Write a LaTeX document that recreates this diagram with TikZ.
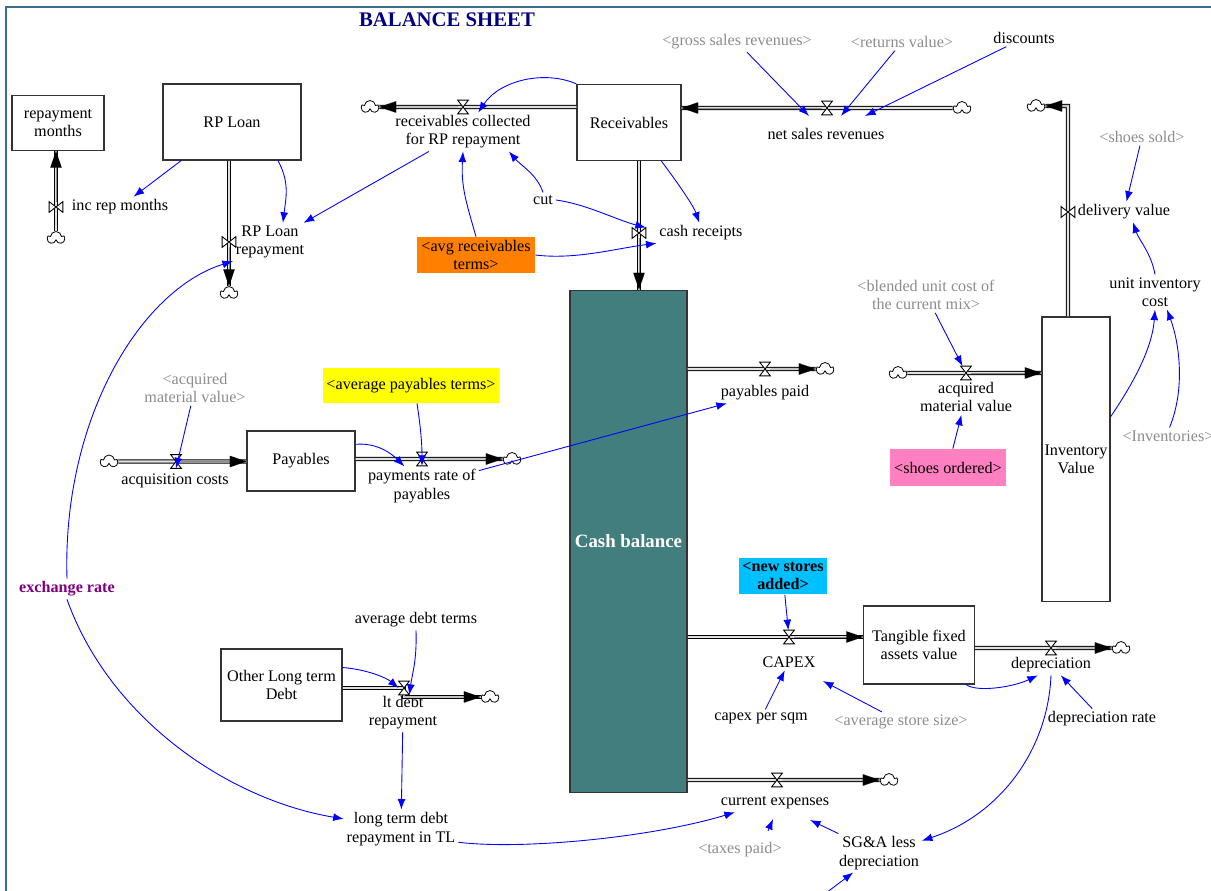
\documentclass[tikz,border=0pt]{standalone}
\usepackage{fontspec}
\setmainfont{Liberation Serif}
\usetikzlibrary{shapes.symbols, arrows.meta, calc}

\definecolor{cashteal}{RGB}{66,126,126}
\definecolor{frameblue}{RGB}{60,110,140}
\definecolor{titlenavy}{RGB}{0,0,128}
\definecolor{expurple}{RGB}{128,0,128}
\definecolor{avgorange}{RGB}{255,128,0}
\definecolor{payyellow}{RGB}{255,255,0}
\definecolor{shoepink}{RGB}{255,128,192}
\definecolor{storecyan}{RGB}{0,192,255}
\definecolor{ghostgray}{RGB}{140,140,140}

\newcommand\simfont{\fontsize{9.2}{10.4}\selectfont}

\tikzset{
  stock/.style={draw=black!80, line width=0.6pt, fill=white, align=center, font=\simfont, inner sep=1pt},
  auxvar/.style={align=center, font=\simfont, inner sep=1.5pt},
  shadowvar/.style={auxvar, text=ghostgray},
  influence/.style={blue, line width=0.5pt, -{Latex[length=6pt,width=4.5pt]}},
  pipe/.style={draw=black, double=black!12, double distance=1.4pt, line width=0.5pt},
  pipetip/.style={draw, line width=0.01pt, -{Triangle[length=9.5pt,width=6.5pt]}},
  valveh/.style={inner sep=0pt, minimum width=0.2cm, minimum height=0.26cm},
  valvev/.style={inner sep=0pt, minimum width=0.26cm, minimum height=0.2cm},
  valveline/.style={draw=black, fill=white, line width=0.5pt},
  sink/.style={cloud, cloud puffs=5, cloud puff arc=170, draw, fill=white, line width=0.45pt, inner sep=0pt, minimum width=0.34cm, minimum height=0.26cm}
}

\begin{document}
\begin{tikzpicture}[x=0.02cm, y=-0.02cm]
\useasboundingbox (0,0) rectangle (1211,891);
\draw[frameblue, line width=1.2pt] (6,900) -- (6,7) -- (1220,7);
\node[font=\fontsize{11.8}{14}\selectfont\bfseries, text=titlenavy] (title) at (447,20) {BALANCE SHEET};

% stocks
\node[stock, minimum width=1.84cm, minimum height=1.1cm] (repmonths) at (58,123) {repayment\\months};
\node[stock, minimum width=2.76cm, minimum height=1.52cm] (rploan) at (232,122) {RP Loan};
\node[stock, minimum width=2.08cm, minimum height=1.52cm] (recv) at (629,122.5) {Receivables};
\node[stock, fill=cashteal, text=white, font=\fontsize{10.7}{12}\selectfont\bfseries, minimum width=2.34cm, minimum height=10.06cm] (cash) at (628.5,541.5) {Cash balance};
\node[stock, minimum width=2.16cm, minimum height=1.2cm] (payables) at (301,461) {Payables};
\node[stock, minimum width=1.36cm, minimum height=5.7cm] (inv) at (1076,459.5) {Inventory\\Value};
\node[stock, minimum width=2.22cm, minimum height=1.56cm] (tfa) at (919,645) {Tangible fixed\\assets value};
\node[stock, minimum width=2.42cm, minimum height=1.44cm] (oltd) at (281.5,685) {Other Long term\\Debt};

% valves
\node[valvev] (vinc) at (56,207) {};
\node[valvev] (vrplr) at (229,242) {};
\node[valveh] (vrcfrp) at (463,107) {};
\node[valveh] (vnsr) at (827,108) {};
\node[valvev] (vcr) at (639,233) {};
\node[valveh] (vpp) at (765,369) {};
\node[valveh] (vacq) at (176,461.5) {};
\node[valveh] (vprp) at (422,459) {};
\node[valveh] (vamv) at (966,373) {};
\node[valvev] (vdv) at (1068,212) {};
\node[valveh] (vcapex) at (789,637) {};
\node[valveh] (vdep) at (1051,648) {};
\node[valveh] (vltdr) at (404,688) {};
\node[valveh] (vce) at (777,780) {};

% clouds
\node[sink] (cinc) at (56,238) {};
\node[sink] (crplr) at (229,293) {};
\node[sink] (crcfrp) at (370,107) {};
\node[sink] (cnsr) at (962,108) {};
\node[sink] (cpp) at (825,369) {};
\node[sink] (cacq) at (109,461.5) {};
\node[sink] (cprp) at (512,459) {};
\node[sink] (camv) at (898,373) {};
\node[sink] (cdv) at (1036,106) {};
\node[sink] (cdep) at (1121,648) {};
\node[sink] (cltdr) at (490,697) {};
\node[sink] (cce) at (889,780) {};

% flow names
\node[auxvar] (increp) at (120,207) {inc rep months};
\node[auxvar] (rplr) at (270,242) {RP Loan\\repayment};
\node[auxvar] (rcfrp) at (463,132) {receivables collected\\for RP repayment};
\node[auxvar] (nsr) at (826,134) {net sales revenues};
\node[auxvar] (cashrec) at (701,233) {cash receipts};
\node[auxvar] (paypaid) at (765,393) {payables paid};
\node[auxvar] (acqcost) at (175,481) {acquisition costs};
\node[auxvar] (payrate) at (422,486) {payments rate of\\payables};
\node[auxvar] (amv) at (966,397) {acquired\\material value};
\node[auxvar, anchor=west] (delval) at (1075,212) {delivery value};
\node[auxvar] (capex) at (789,662) {CAPEX};
\node[auxvar] (dep) at (1051,665) {depreciation};
\node[auxvar] (ltdr) at (403,713) {lt debt\\repayment};
\node[auxvar] (curexp) at (775,803) {current expenses};

% auxiliaries
\node[auxvar] (cut) at (543,200) {cut};
\node[auxvar, fill=avgorange, minimum width=2.36cm, minimum height=0.72cm] (avgrec) at (476,255) {<avg receivables\\terms>};
\node[shadowvar] (gross) at (737,42) {<gross sales revenues>};
\node[shadowvar] (returns) at (902,42) {<returns value>};
\node[auxvar] (discounts) at (1024,38) {discounts};
\node[shadowvar] (shoessold) at (1142,137) {<shoes sold>};
\node[auxvar] (uic) at (1155,292) {unit inventory\\cost};
\node[shadowvar] (inventories) at (1168,436) {<Inventories>};
\node[shadowvar] (blended) at (926,295) {<blended unit cost of\\the current mix>};
\node[auxvar, fill=shoepink, minimum width=2.32cm, minimum height=0.74cm] (shoesord) at (948,467.5) {<shoes ordered>};
\node[shadowvar] (acqmat) at (195,388) {<acquired\\material value>};
\node[auxvar, fill=payyellow, minimum width=3.52cm, minimum height=0.7cm] (avgpay) at (411,385.5) {<average payables terms>};
\node[auxvar, text=expurple, font=\simfont\bfseries] (exrate) at (67,589) {exchange rate};
\node[auxvar] (avgdebt) at (416,620) {average debt terms};
\node[auxvar] (ltdtl) at (401,829) {long term debt\\repayment in TL};
\node[auxvar, fill=storecyan, font=\simfont\bfseries, minimum width=1.76cm, minimum height=0.74cm] (newstores) at (783,576) {<new stores\\added>};
\node[auxvar] (capexsqm) at (761,718) {capex per sqm};
\node[shadowvar] (avgstore) at (901,722) {<average store size>};
\node[auxvar] (deprate) at (1102,719) {depreciation rate};
\node[shadowvar] (taxes) at (740,850) {<taxes paid>};
\node[auxvar] (sga) at (879,853) {SG\&A less\\depreciation};
\coordinate (sgain) at (826,893);

% pipes
\draw[pipe] (cinc) -- (vinc |- repmonths.south);
\path[pipetip] (vinc) -- (vinc |- repmonths.south);
\draw[pipe] (rploan.south -| vrplr) -- (crplr);
\path[pipetip] (vrplr) -- (crplr);
\draw[pipe] (recv.west |- vrcfrp) -- (crcfrp);
\path[pipetip] (vrcfrp) -- (crcfrp);
\draw[pipe] (cnsr) -- (recv.east |- vnsr);
\path[pipetip] (vnsr) -- (recv.east |- vnsr);
\draw[pipe] (recv.south -| vcr) -- (cash.north -| vcr);
\path[pipetip] (vcr) -- (cash.north -| vcr);
\draw[pipe] (cash.east |- vpp) -- (cpp);
\path[pipetip] (vpp) -- (cpp);
\draw[pipe] (cacq) -- (payables.west |- vacq);
\path[pipetip] (vacq) -- (payables.west |- vacq);
\draw[pipe] (payables.east |- vprp) -- (cprp);
\path[pipetip] (vprp) -- (cprp);
\draw[pipe] (camv) -- (inv.west |- vamv);
\path[pipetip] (vamv) -- (inv.west |- vamv);
\draw[pipe, line join=miter] (inv.north -| vdv) -- (vdv |- cdv) -- (cdv);
\path[pipetip] (vdv |- cdv) -- (cdv);
\draw[pipe] (cash.east |- vcapex) -- (tfa.west |- vcapex);
\path[pipetip] (vcapex) -- (tfa.west |- vcapex);
\draw[pipe] (tfa.east |- vdep) -- (cdep);
\path[pipetip] (vdep) -- (cdep);
\draw[pipe, line join=miter] (oltd.east |- vltdr) -- (vltdr.center) |- (cltdr);
\path[pipetip] (vltdr |- cltdr) -- (cltdr);
\draw[pipe] (cash.east |- vce) -- (cce);
\path[pipetip] (vce) -- (cce);

\foreach \v in {vrcfrp, vnsr, vpp, vacq, vprp, vamv, vcapex, vdep, vltdr, vce}
  \draw[valveline] (\v.north west) -- (\v.north east) -- (\v.south west) -- (\v.south east) -- cycle;
\foreach \v in {vinc, vrplr, vcr, vdv}
  \draw[valveline] (\v.north west) -- (\v.south west) -- (\v.north east) -- (\v.south east) -- cycle;

% influences
\draw[influence] (rploan) -- (increp);
\draw[influence] (rploan.-40) .. controls +(12,22) and +(3,-25) .. (rplr.56);
\draw[influence] (rcfrp) -- (rplr);
\draw[influence] (recv.north west) .. controls (545,70) and (500,80) .. (rcfrp.52);
\draw[influence] (cut.north) .. controls +(-6,-18) and +(12,14) .. (rcfrp.-23);
\draw[influence] (cut.east) .. controls +(30,4) and +(-30,-8) .. (vcr.north east);
\draw[influence] (recv.-50) .. controls +(12,16) and +(-6,-18) .. (cashrec.100);
\draw[influence] (avgrec.north) .. controls +(-10,-35) and +(-2,35) .. (rcfrp.south);
\draw[influence] (avgrec.east) .. controls +(40,5) and +(-40,5) .. (cashrec.south west);
\draw[influence] (gross) -- ($(nsr)+(-17,-18)$);
\draw[influence] (returns) -- ($(nsr)+(15,-18)$);
\draw[influence] (discounts) -- ($(nsr)+(39,-18)$);
\draw[influence] (shoessold) -- (delval);
\draw[influence] (uic.north) .. controls +(-4,-22) and +(6,18) .. ($(delval.south)+(9,0)$);
\draw[influence] (inv.51) .. controls (1130,388) and (1152,351) .. (uic.south);
\draw[influence] (inventories.80) .. controls (1185,390) and (1180,345) .. ($(uic.south)+(12,0)$);
\draw[influence] (blended) -- (vamv);
\draw[influence] (shoesord) -- (amv);
\draw[influence] (acqmat) -- (vacq.south);
\draw[influence] ($(avgpay.south)+(6,0)$) .. controls +(3,20) and +(0,-25) .. (vprp.south);
\draw[influence] (payables.17) .. controls +(22,-2) and +(-12,-12) .. (payrate.132);
\draw[influence] (payrate) -- (paypaid);
\draw[influence] (exrate.north) .. controls (62,420) and (140,290) .. (rplr.south west);
\draw[influence] (exrate.south) .. controls (110,720) and (230,800) .. (ltdtl.170);
\draw[influence] (avgdebt.south) .. controls +(1,30) and +(3,-22) .. (vltdr.south east);
\draw[influence] (oltd.16) .. controls +(25,2) and +(-12,-10) .. (vltdr.west);
\draw[influence] (ltdr) -- (ltdtl);
\draw[influence] (ltdtl.-13) .. controls (520,850) and (650,838) .. (curexp.-167);
\draw[influence] ($(taxes)+(28,-19)$) -- ($(curexp)+(-2,16)$);
\draw[influence] (sga) -- ($(curexp)+(35,17)$);
\draw[influence] (sgain) -- (sga);
\draw[influence] (dep.south) .. controls (1048,750) and (1000,815) .. (sga.16);
\draw[influence] (tfa.-40) .. controls +(10,8) and +(-25,12) .. (dep.-142);
\draw[influence] (deprate) -- (dep);
\draw[influence] (capexsqm) -- (capex);
\draw[influence] (avgstore) -- ($(capex)+(34,19)$);
\draw[influence] (newstores) -- (vcapex);
\end{tikzpicture}
\end{document}
